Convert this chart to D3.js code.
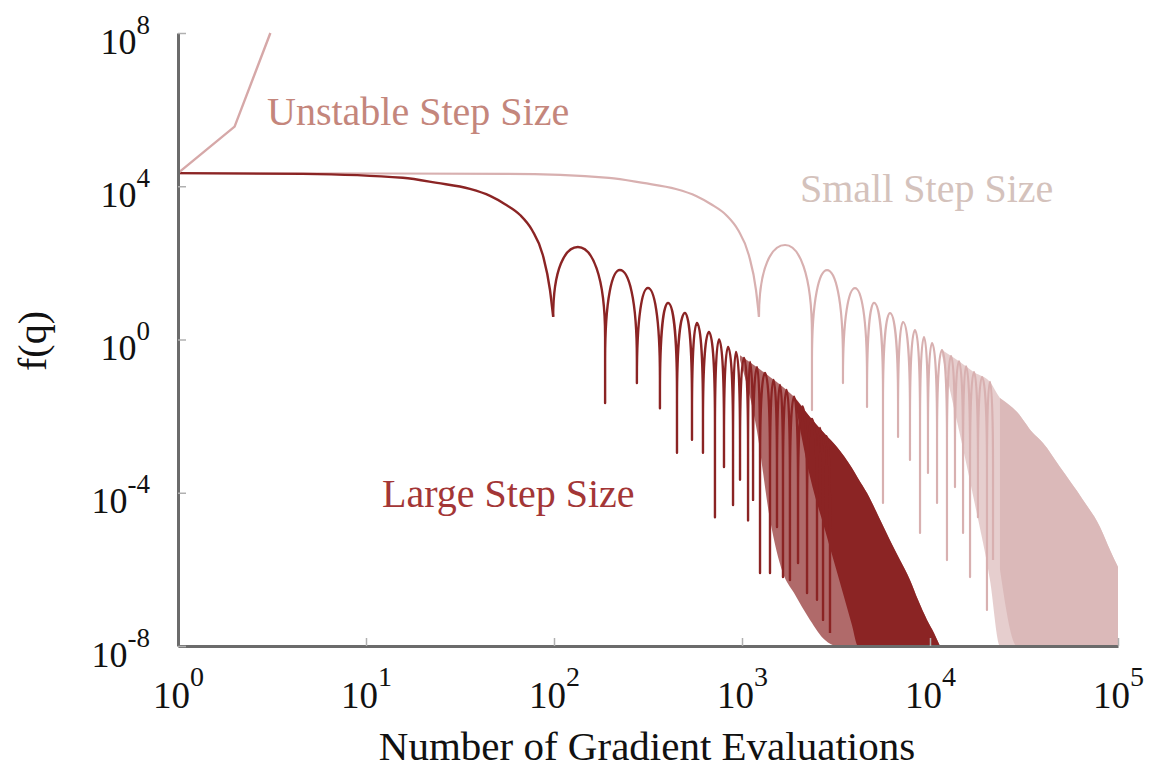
<!DOCTYPE html>
<html>
<head>
<meta charset="utf-8">
<script src="https://cdn.jsdelivr.net/npm/d3@7"></script>
<style>
  body { margin: 0; background: #fff; }
</style>
</head>
<body>
<script>
// values: x = number of gradient evaluations, f = f(q)
const xTicks = [1, 10, 100, 1000, 10000, 100000];
const xTickExp = ["0", "1", "2", "3", "4", "5"];
const yTicks = [1e8, 1e4, 1, 1e-4, 1e-8];
const yTickExp = ["8", "4", "0", "-4", "-8"];

const unstable = [[1, 2.2e4], [2, 3.6e5], [3.1, 1e8]];

// large step size: smooth start, then dips / peaks of the oscillation
const largeHead = [[1, 2.2e4], [4.6, 2.1e4], [15.7, 1.66e4], [23.9, 1.22e4], [35.7, 8.5e3], [45.7, 5.6e3],
  [54.9, 3.4e3], [66, 1.78e3], [76.4, 720], [87.2, 161], [95.2, 19.6], [99, 3.9]];
const largeDips = [[99, 3.9], [187, 0.022], [276, 0.073], [366, 0.016], [451, 0.0011], [542, 0.0024],
  [620, 0.0011], [718, 2.3e-5], [802, 4.7e-4], [896, 4.8e-5], [976, 2.2e-4], [1077, 1.9e-5],
  [1145, 6.5e-5], [1247, 8e-7], [1409, 8e-7], [1535, 1.28e-5], [1652, 6.3e-7], [1799, 5.3e-7],
  [1986, 1.47e-6], [2218, 2.4e-7], [2506, 1.6e-7], [2698, 4.8e-8], [2938, 2.2e-8]];
const largePeaks = [[134, 260], [224, 65], [316, 22], [404, 9.0], [497, 4.9], [576, 2.7], [667, 1.57],
  [755, 1.0], [843, 0.64], [929, 0.47], [1025, 0.33], [1103, 0.26], [1202, 0.19], [1325, 0.134],
  [1471, 0.088], [1592, 0.065], [1725, 0.048], [1892, 0.032], [2099, 0.018], [2356, 0.0084],
  [2600, 0.0049], [2815, 0.003]];
// where the oscillation is too dense to resolve: top envelope, floor of the
// partly covered band, floor of the fully covered band
const largeDenseX = [976, 1202, 1409, 1652, 1892, 2300, 2763, 3200, 3846, 4140, 4624, 5287, 6124,
  6925, 7825, 8630, 9640, 10500, 11300];
const largeDenseTop = [0.39, 0.19, 0.105, 0.058, 0.032, 9.5e-3, 3.4e-3, 1.56e-3, 4.4e-4, 2.4e-4,
  9.8e-5, 2.6e-5, 5.8e-6, 1.75e-6, 5.3e-7, 1.6e-7, 4.8e-8, 2.2e-8, 1e-8];
const largeDenseFringe = [0.29, 4e-3, 2e-5, 8e-7, 2.4e-7, 4.8e-8, 1.43e-8, 1e-8, 1e-8, 1e-8,
  1e-8, 1e-8, 1e-8, 1e-8, 1e-8, 1e-8, 1e-8, 1e-8, 1e-8];
const largeDenseSolid = [null, null, null, null, 0.032, 2.6e-4, 1.07e-5, 8.5e-7, 3.5e-8, 1e-8,
  1e-8, 1e-8, 1e-8, 1e-8, 1e-8, 1e-8, 1e-8, 1e-8, 1e-8];

// small step size
const smallHead = [[1, 2.2e4], [57, 2.1e4], [196, 1.66e4], [298, 1.22e4], [445, 8.5e3], [570, 5.6e3],
  [685, 3.4e3], [823, 1.78e3], [953, 720], [1087, 161], [1187, 19.6], [1231, 3.9]];
const smallDips = [[1231, 3.9], [2356, 0.0144], [3444, 0.073], [4624, 0.0173], [5623, 5.4e-5],
  [6761, 2.85e-3], [7825, 7.2e-4], [8850, 8.9e-6], [9755, 3.3e-4], [10900, 5.4e-5], [12310, 1.75e-6],
  [13580, 1.41e-4], [14990, 8.9e-6], [16330, 6.3e-7], [17990, 2.3e-5], [20090, 8.7e-8], [21640, 1.75e-6]];
const smallPeaks = [[1694, 293], [2833, 65], [3990, 22], [5035, 9.0], [6124, 4.9], [7180, 2.86],
  [8318, 1.77], [9290, 1.16], [10250, 0.81], [11580, 0.53], [12940, 0.37], [14260, 0.27],
  [15540, 0.20], [17140, 0.14], [18910, 0.105], [20840, 0.078]];
const smallDenseX = [11580, 14260, 17140, 20840, 23560, 29040, 35300, 39900, 49130, 65150, 80200,
  90650, 100000];
const smallDenseTop = [0.53, 0.27, 0.14, 0.078, 0.0297, 0.0128, 3.6e-3, 2.0e-3, 4.7e-4, 6.5e-5,
  1.28e-5, 3.2e-6, 1.15e-6];
const smallDenseFringe = [0.39, 4.3e-3, 6.5e-5, 5.3e-7, 1e-8, 1e-8, 1e-8, 1e-8, 1e-8, 1e-8, 1e-8,
  1e-8, 1e-8];
const smallDenseSolid = [null, null, null, null, 1e-6, 1e-8, 1e-8, 1e-8, 1e-8, 1e-8, 1e-8,
  1e-8, 1e-8];

// chart variables
const width = 1149, height = 770;
const margin = {top: 33, right: 31, bottom: 124, left: 178};
const serif = "'Liberation Serif', 'Times New Roman', serif";

const x = d3.scaleLog().domain([1, 1e5]).range([margin.left, width - margin.right]);
const y = d3.scaleLog().domain([1e-8, 1e8]).range([height - margin.bottom, margin.top]);

const svg = d3.select("body").append("svg")
  .attr("width", width)
  .attr("height", height)
  .attr("font-family", serif)
  .style("display", "block");

// dips are sharp needles, peaks are round arches
function curveArch(context) {
  let px, py, n;
  return {
    areaStart() {}, areaEnd() {},
    lineStart() { n = 0; },
    lineEnd() {},
    point(cx, cy) {
      if (n++ === 0) context.moveTo(cx, cy);
      else if (cy < py) {
        const s = Math.min(py - cy, 90);
        context.lineTo(px, cy + s);
        context.bezierCurveTo(px, cy + 0.3 * s, px + 0.5 * (cx - px), cy, cx, cy);
      } else {
        const s = Math.min(cy - py, 90);
        context.bezierCurveTo(cx - 0.5 * (cx - px), py, cx, py + 0.3 * s, cx, py + s);
        context.lineTo(cx, cy);
      }
      px = cx; py = cy;
    }
  };
}

const smooth = d3.line().x(d => x(d[0])).y(d => y(d[1])).curve(d3.curveMonotoneX);
const arches = d3.line().x(d => x(d[0])).y(d => y(d[1])).curve(curveArch);
const fringeArea = d3.area().x(d => x(d.x)).y0(d => y(d.fringe)).y1(d => y(d.top)).curve(d3.curveMonotoneX);
const solidArea = d3.area().defined(d => d.solid != null)
  .x(d => x(d.x)).y0(d => y(d.solid)).y1(d => y(d.top)).curve(d3.curveMonotoneX);

function interleave(dips, peaks) {
  return dips.flatMap((d, i) => i < peaks.length ? [d, peaks[i]] : [d]);
}
function dense(xs, top, fringe, solid) {
  return xs.map((v, i) => ({x: v, top: top[i], fringe: fringe[i], solid: solid[i]}));
}

function drawSeries(head, dips, peaks, denseRows, color, fill, fringeOpacity, lw) {
  svg.append("path").datum(denseRows).attr("d", fringeArea)
    .attr("fill", fill).attr("fill-opacity", fringeOpacity);
  svg.append("path").datum(denseRows).attr("d", solidArea)
    .attr("fill", fill);
  svg.append("path").datum(head).attr("d", smooth)
    .attr("fill", "none").attr("stroke", color).attr("stroke-width", lw);
  svg.append("path").datum(interleave(dips, peaks)).attr("d", arches)
    .attr("fill", "none").attr("stroke", color).attr("stroke-width", lw)
    .attr("stroke-linejoin", "round");
}

drawSeries(smallHead, smallDips, smallPeaks,
  dense(smallDenseX, smallDenseTop, smallDenseFringe, smallDenseSolid), "#d8b0b0", "#dbb9b9", 0.7, 2.2);
drawSeries(largeHead, largeDips, largePeaks,
  dense(largeDenseX, largeDenseTop, largeDenseFringe, largeDenseSolid), "#8b2424", "#8b2424", 0.68, 2.4);

svg.append("path").datum(unstable)
  .attr("d", d3.line().x(d => x(d[0])).y(d => y(d[1])))
  .attr("fill", "none").attr("stroke", "#d6a8a8").attr("stroke-width", 2.4);

// series labels
svg.append("text").attr("x", 267).attr("y", 125).attr("font-size", 40)
  .attr("fill", "#c4867c").text("Unstable Step Size");
svg.append("text").attr("x", 800).attr("y", 202).attr("font-size", 40)
  .attr("fill", "#d4c2bc").text("Small Step Size");
svg.append("text").attr("x", 382).attr("y", 507).attr("font-size", 40)
  .attr("fill", "#a33636").text("Large Step Size");

// axes
function powerLabels(sel, exps, size, supSize, rise) {
  sel.selectAll(".tick text").text(null)
    .attr("font-size", size).attr("fill", "#111")
    .each(function(d, i) {
      const t = d3.select(this);
      t.append("tspan").text("10");
      t.append("tspan").attr("dy", -rise).attr("font-size", supSize).text(exps[i]);
    });
}

const xAxis = svg.append("g")
  .attr("transform", `translate(0,${height - margin.bottom})`)
  .call(d3.axisBottom(x).tickValues(xTicks).tickSize(-8).tickSizeOuter(0))
  .attr("font-family", serif).attr("font-size", null);
xAxis.select(".domain").attr("stroke", "#6b6b6b").attr("stroke-width", 3);
xAxis.selectAll(".tick line").attr("stroke", "#b0b0b0").attr("stroke-width", 1.5);
powerLabels(xAxis, xTickExp, 37, 28, 22);
xAxis.selectAll(".tick text").attr("y", 62).attr("dy", null);

const yAxis = svg.append("g")
  .attr("transform", `translate(${margin.left},0)`)
  .call(d3.axisLeft(y).tickValues(yTicks).tickSize(-8).tickSizeOuter(0).tickPadding(28))
  .attr("font-family", serif).attr("font-size", null);
yAxis.select(".domain").attr("stroke", "#6b6b6b").attr("stroke-width", 3);
yAxis.selectAll(".tick line").attr("stroke", "#b0b0b0").attr("stroke-width", 1.5);
powerLabels(yAxis, yTickExp, 36, 27, 20);
yAxis.selectAll(".tick text").attr("y", 20).attr("dy", null);

// axis titles
svg.append("text").attr("x", 647).attr("y", 760).attr("text-anchor", "middle")
  .attr("font-size", 41).attr("fill", "#111").text("Number of Gradient Evaluations");
svg.append("text").attr("transform", "translate(46,341) rotate(-90)")
  .attr("text-anchor", "middle").attr("font-size", 40).attr("fill", "#111").text("f(q)");
</script>
</body>
</html>
